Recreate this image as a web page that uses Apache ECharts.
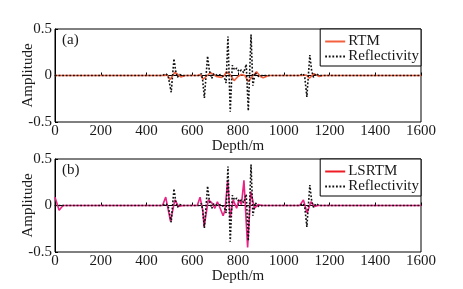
<!DOCTYPE html>
<html>
<head>
<meta charset="utf-8">
<script src="https://cdn.jsdelivr.net/npm/echarts@6/dist/echarts.min.js"></script>
<style>
  html, body { margin: 0; padding: 0; background: #fff; }
  #chart { width: 463px; height: 289px; }
</style>
</head>
<body>
<div id="chart"></div>
<script>
// tick labels
const depthTicks = [0, 200, 400, 600, 800, 1000, 1200, 1400, 1600]
const ampTicks = [-0.5, 0, 0.5]

// reflectivity (same in both panels)
const depthRefl = [0, 470, 485, 495, 500, 508, 520, 528, 535, 545, 560, 630, 640, 645, 653, 667, 675, 685, 695, 710, 725, 740, 748, 756, 766, 775, 785, 795, 805, 815, 825, 836, 845, 857, 865, 875, 890, 905, 1070, 1085, 1092, 1101, 1114, 1122, 1130, 1140, 1155, 1600]
const refl = [0, 0, 0.02, -0.01, -0.03, -0.18, 0.18, 0.04, -0.02, 0.01, 0, 0, 0.02, -0.04, -0.24, 0.21, 0.05, -0.03, 0.02, 0, 0.01, -0.02, -0.08, 0.42, -0.39, 0.11, 0.06, 0.08, 0.04, 0.06, 0.03, 0.12, -0.38, 0.44, -0.11, 0.03, -0.01, 0, 0, 0.02, -0.02, -0.23, 0.22, 0.05, -0.02, 0.02, 0, 0]

// RTM image trace
const depthRtm = [0, 6, 15, 480, 490, 503, 524, 550, 570, 625, 635, 648, 665, 680, 705, 728, 740, 750, 765, 783, 800, 815, 830, 845, 862, 881, 898, 910, 935, 1080, 1098, 1112, 1132, 1155, 1170, 1600]
const rtm = [0, -0.01, 0, 0, 0.01, -0.045, 0.035, -0.015, 0, 0, 0.01, -0.04, 0, 0.03, -0.01, -0.02, 0, 0.04, 0.01, -0.055, -0.01, 0.01, 0, -0.065, -0.01, 0.04, -0.01, -0.025, 0, 0, 0.005, -0.03, 0.02, -0.01, 0, 0]

// LSRTM image trace
const depthLs = [0, 18, 35, 470, 484, 505, 524, 540, 560, 622, 634, 646, 652, 670, 685, 699, 710, 722, 735, 743, 755, 766, 779, 794, 804, 815, 826, 842, 856, 872, 888, 905, 1070, 1086, 1102, 1119, 1134, 1150, 1600]
const lsrtm = [0.09, -0.05, 0, 0, 0.09, -0.17, 0.06, -0.01, 0, 0, 0.09, -0.05, -0.23, 0.06, 0.03, -0.03, 0.04, -0.03, -0.11, -0.05, 0.27, -0.13, 0.06, -0.03, 0.06, 0.01, 0.27, -0.45, 0.15, -0.03, 0.01, 0, 0, 0.06, -0.08, 0.04, -0.01, 0, 0]

const zip = (xs, ys) => xs.map((x, i) => [x, ys[i]])

const font = "'Liberation Serif'"
const txt = '#1a1a1a'

function xAxisOf(idx) {
  return {
    type: 'value', gridIndex: idx,
    min: depthTicks[0], max: depthTicks[depthTicks.length - 1], interval: 200,
    name: 'Depth/m', nameLocation: 'middle', nameGap: 17, nameMoveOverlap: false,
    nameTextStyle: { fontFamily: font, fontSize: 15, color: txt },
    axisLine: { show: true, lineStyle: { color: '#000', width: 1 } },
    axisTick: { show: true, inside: true, length: 3, lineStyle: { color: '#000' } },
    axisLabel: { margin: 2, fontFamily: font, fontSize: 15, color: txt, formatter: v => String(v) },
    splitLine: { show: false }
  }
}

function yAxisOf(idx) {
  return {
    type: 'value', gridIndex: idx,
    min: ampTicks[0], max: ampTicks[ampTicks.length - 1], interval: 0.5,
    name: 'Amplitude', nameLocation: 'middle', nameGap: 19, nameMoveOverlap: false,
    nameTextStyle: { fontFamily: font, fontSize: 15, color: txt },
    axisLine: { show: true, lineStyle: { color: '#000', width: 1 } },
    axisTick: { show: true, inside: true, length: 3, lineStyle: { color: '#000' } },
    axisLabel: { margin: 3, fontFamily: font, fontSize: 15, color: txt, formatter: v => String(v) },
    splitLine: { show: false }
  }
}

function legendOf(top, first) {
  return {
    top: top, right: 42, orient: 'vertical',
    data: [first, 'Reflectivity'],
    backgroundColor: '#fff', borderColor: '#000', borderWidth: 1, borderRadius: 0,
    padding: [5, 2, 2, 4], itemWidth: 20, itemHeight: 12, itemGap: 0,
    itemStyle: { opacity: 0 },
    textStyle: { fontFamily: font, fontSize: 15, color: txt, lineHeight: 12, padding: [0, 0, 0, -2] }
  }
}

const dotted = { color: '#111', width: 1.6, type: [1.8, 1.8] }

const chart = echarts.init(document.getElementById('chart'))
chart.setOption({
  animation: false,
  backgroundColor: '#fff',
  grid: [
    { left: 55, right: 42, top: 29, height: 93, show: true, borderColor: '#000', borderWidth: 1, backgroundColor: '#fff' },
    { left: 55, right: 42, top: 159, height: 93, show: true, borderColor: '#000', borderWidth: 1, backgroundColor: '#fff' }
  ],
  xAxis: [xAxisOf(0), xAxisOf(1)],
  yAxis: [yAxisOf(0), yAxisOf(1)],
  legend: [
    legendOf(29, 'RTM'),
    legendOf(159, { name: 'LSRTM', lineStyle: { color: '#ee1c25' } })
  ],
  graphic: [
    { type: 'text', left: 62, top: 33, style: { text: '(a)', font: '15px "Liberation Serif"', fill: txt } },
    { type: 'text', left: 62, top: 163, style: { text: '(b)', font: '15px "Liberation Serif"', fill: txt } }
  ],
  series: [
    {
      name: 'RTM', type: 'line', xAxisIndex: 0, yAxisIndex: 0, symbol: 'none',
      lineStyle: { color: '#f2603e', width: 1.6 }, itemStyle: { color: '#f2603e' },
      data: zip(depthRtm, rtm)
    },
    {
      name: 'Reflectivity', type: 'line', xAxisIndex: 0, yAxisIndex: 0, symbol: 'none',
      lineStyle: dotted, itemStyle: { color: '#111' },
      data: zip(depthRefl, refl)
    },
    {
      name: 'LSRTM', type: 'line', xAxisIndex: 1, yAxisIndex: 1, symbol: 'none',
      lineStyle: { color: '#ea2283', width: 1.6 }, itemStyle: { color: '#ea2283' },
      data: zip(depthLs, lsrtm)
    },
    {
      name: 'Reflectivity', type: 'line', xAxisIndex: 1, yAxisIndex: 1, symbol: 'none',
      lineStyle: dotted, itemStyle: { color: '#111' },
      data: zip(depthRefl, refl)
    }
  ]
})
</script>
</body>
</html>
